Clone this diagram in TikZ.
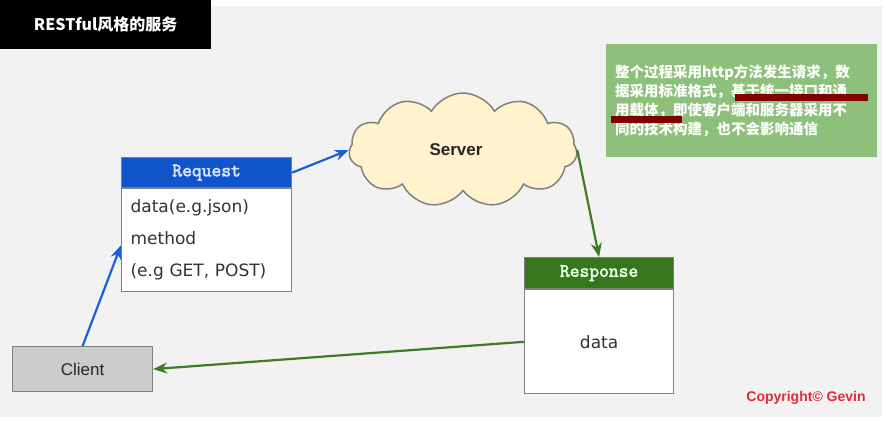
\documentclass[tikz,border=0pt]{standalone}
\usepackage{fontspec}
\setmainfont{DejaVu Sans}
\setsansfont{Liberation Sans}
\newfontfamily\cjk{Noto Sans CJK SC}
\newfontfamily\codefont[AutoFakeBold=2.5]{Latin Modern Mono}
\usetikzlibrary{shapes.symbols,arrows.meta,positioning}
\definecolor{bggray}{HTML}{F2F2F2}
\definecolor{reqblue}{HTML}{1155CC}
\definecolor{resgreen}{HTML}{38761D}
\definecolor{notegreen}{HTML}{8DC17B}
\definecolor{barred}{HTML}{800000}
\definecolor{cloudfill}{HTML}{FFF2CC}
\definecolor{linegray}{HTML}{808080}
\definecolor{copyred}{HTML}{E5283C}
\definecolor{arrowblue}{HTML}{1A5FD8}
\definecolor{arrowgreen}{HTML}{3D7C22}
\tikzset{
  headbox/.style={draw=linegray, line width=1.2pt, minimum height=30pt, inner sep=0pt,
    font=\codefont\bfseries\fontsize{19}{19}\selectfont},
  bodybox/.style={draw=linegray, fill=white, line width=1.2pt, inner sep=0pt,
    font=\fontsize{17}{32}\selectfont, text=black!80},
  link/.style={line width=2.2pt, -{Stealth[length=14pt,width=11pt]}}
}
\begin{document}
\begin{tikzpicture}[x=1pt,y=-1pt]
  \useasboundingbox (0,0) rectangle (886,421);
  \fill[white] (0,0) rectangle (886,421);
  \fill[bggray] (0,6) rectangle (882,417);
  \node[fill=black, anchor=north west, minimum width=211pt, minimum height=49pt, inner sep=0pt,
    text=white, font=\cjk\bfseries\fontsize{16}{16}\selectfont] (title) at (0,0) {RESTful风格的服务};
  \node[fill=notegreen, anchor=north west, minimum width=271pt, minimum height=113pt,
    inner xsep=9pt, text width=253pt, align=left, text=white,
    font=\cjk\bfseries\fontsize{14.5}{19}\selectfont] (note) at (606,44)
    {整个过程采用http方法发生请求，数\\据采用标准格式，基于统一接口和通\\用载体，即使客户端和服务器采用不\\同的技术构建，也不会影响通信};
  \foreach \xa/\ya/\xb/\yb in {735/94/868/101, 611/116/682/123}{
    \fill[barred] (\xa,\ya) rectangle (\xb,\yb);
  }
  \node[cloud, cloud puffs=11, cloud puff arc=120, aspect=2, minimum width=228pt, minimum height=114pt,
    draw=linegray, line width=1.5pt, fill=cloudfill, text=black!85,
    font=\sffamily\bfseries\fontsize{17}{17}\selectfont] (server) at (463,150) {\hspace*{-14pt}Server};
  \node[headbox, fill=reqblue, text=white!90!blue, minimum width=170pt, anchor=north west] (request) at (121,157) {Request};
  \node[bodybox, minimum width=170pt, minimum height=103pt, anchor=north, inner xsep=9pt,
    text width=152pt, align=left] (reqbody) at (request.south) {data(e.g.json)\\method\\(e.g GET, POST)};
  \node[headbox, fill=resgreen, text=white!90!green, minimum width=149pt, minimum height=31pt, anchor=north west] (response) at (524,257) {Response};
  \node[bodybox, minimum width=149pt, minimum height=104pt, anchor=north] (resbody) at (response.south) {data};
  \node[draw=linegray, fill=black!20, line width=1.2pt, minimum width=140pt, minimum height=45pt,
    anchor=north west, text=black!85, font=\sffamily\fontsize{17}{17}\selectfont] (client) at (12,346) {Client};
  \node[text=copyred, font=\sffamily\bfseries\fontsize{14}{14}\selectfont] (copyright) at (806,398) {Copyright© Gevin};
  \draw[link, arrowblue] (client.north) -- ([yshift=-5pt]reqbody.west);
  \draw[link, arrowblue] (request.east) -- (server.west);
  \draw[link, arrowgreen] (server.east) -- (response.north);
  \draw[link, arrowgreen] (resbody.west) -- (client.east);
\end{tikzpicture}
\end{document}
